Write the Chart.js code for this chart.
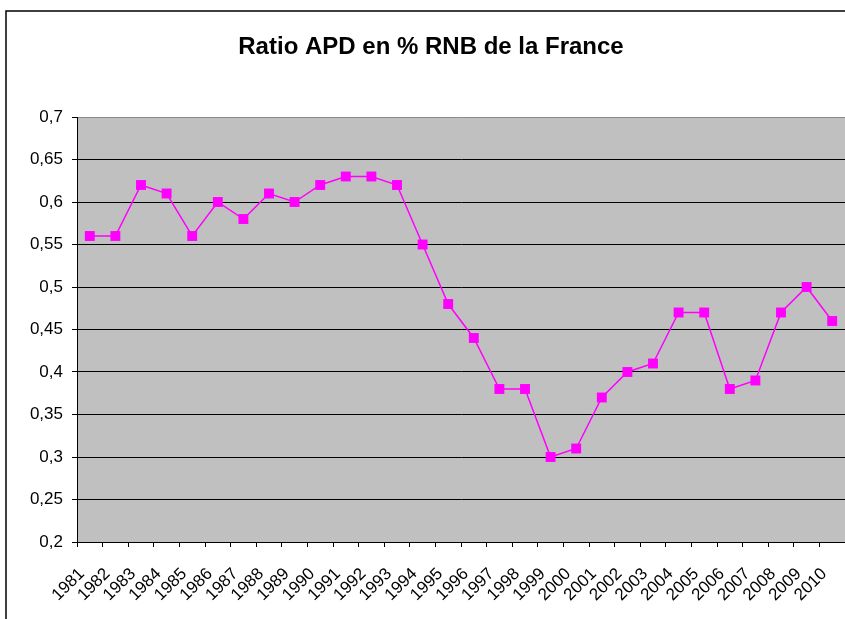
<!DOCTYPE html>
<html>
<head>
<meta charset="utf-8">
<script src="https://cdn.jsdelivr.net/npm/chart.js@4"></script>
<style>
   html, body { margin: 0; padding: 0; background: #fff; }
   #wrap { width: 845px; height: 619px; position: relative; }
</style>
</head>
<body>
<div id="wrap"><canvas id="apdChart" width="845" height="619"></canvas></div>
<script>
const chartTitle = 'Ratio APD en % RNB de la France';
const years = ['1981', '1982', '1983', '1984', '1985', '1986', '1987', '1988', '1989', '1990',
   '1991', '1992', '1993', '1994', '1995', '1996', '1997', '1998', '1999', '2000',
   '2001', '2002', '2003', '2004', '2005', '2006', '2007', '2008', '2009', '2010'];
const ratioApd = [0.56, 0.56, 0.62, 0.61, 0.56, 0.60, 0.58, 0.61, 0.60, 0.62,
   0.63, 0.63, 0.62, 0.55, 0.48, 0.44, 0.38, 0.38, 0.30, 0.31,
   0.37, 0.40, 0.41, 0.47, 0.47, 0.38, 0.39, 0.47, 0.50, 0.46];
const yMin = 0.2;
const yMax = 0.7;
const yStep = 0.05;

// grey plot area + outer frame + title, excel style
const excelLook = {
   id: 'excelLook',
   beforeDraw(chart){
      const ctx = chart.ctx;
      const a = chart.chartArea;
      ctx.save();
      ctx.fillStyle = '#fff';
      ctx.fillRect(0, 0, chart.width, chart.height);
      ctx.fillStyle = '#c0c0c0';
      ctx.fillRect(a.left, a.top, a.right - a.left, a.bottom - a.top);
      ctx.strokeStyle = '#000';
      ctx.lineWidth = 1.5;
      ctx.beginPath();
      ctx.moveTo(6, chart.height);
      ctx.lineTo(6, 11);
      ctx.lineTo(chart.width, 11);
      ctx.stroke();
      ctx.fillStyle = '#000';
      ctx.font = 'bold 24px "Liberation Sans", Arial, sans-serif';
      ctx.textAlign = 'center';
      ctx.textBaseline = 'middle';
      ctx.fillText(chartTitle, 431, 47);
      ctx.restore();
   }
};

const ctxE = document.getElementById('apdChart').getContext('2d');
const apdChart = new Chart(ctxE, {
   type: 'line',
   data: {
      labels: years,
      datasets: [
         {
            label: 'Ratio APD',
            data: ratioApd,
            borderColor: '#ff00ff',
            backgroundColor: '#ff00ff',
            borderWidth: 1.5,
            pointStyle: 'rect',
            pointRadius: 7,
            pointBorderWidth: 0,
            tension: 0
         }
      ]
   },
   options: {
      responsive: false,
      animation: false,
      layout: {
         autoPadding: false,
         padding: { top: 117, left: 0, right: 0, bottom: 0 }
      },
      plugins: {
         legend: { display: false },
         title: { display: false },
         tooltip: { enabled: false }
      },
      scales: {
         x: {
            offset: true,
            grid: {
               offset: true,
               drawOnChartArea: false,
               tickLength: 5,
               color: '#000'
            },
            border: { color: '#000', width: 1 },
            ticks: {
               minRotation: 45,
               maxRotation: 45,
               autoSkip: false,
               padding: 17,
               labelOffset: -8,
               color: '#000',
               font: { family: '"Liberation Sans", Arial, sans-serif', size: 17 }
            },
            afterFit(scale){
               scale.height = 77;
               scale.paddingLeft = 0;
               scale.paddingRight = 0;
            }
         },
         y: {
            min: yMin,
            max: yMax,
            grid: {
               tickLength: 5,
               color: c => Math.abs(c.tick.value - yMax) < 1e-6 ? '#8a8a8a' : '#000',
               tickColor: '#000'
            },
            border: { color: '#000', width: 1 },
            ticks: {
               stepSize: yStep,
               padding: 9,
               color: '#000',
               font: { family: '"Liberation Sans", Arial, sans-serif', size: 17 },
               callback: v => String(Math.round(v * 100) / 100).replace('.', ',')
            },
            afterFit(scale){
               scale.width = 77;
            }
         }
      }
   },
   plugins: [excelLook]
});
</script>
</body>
</html>
